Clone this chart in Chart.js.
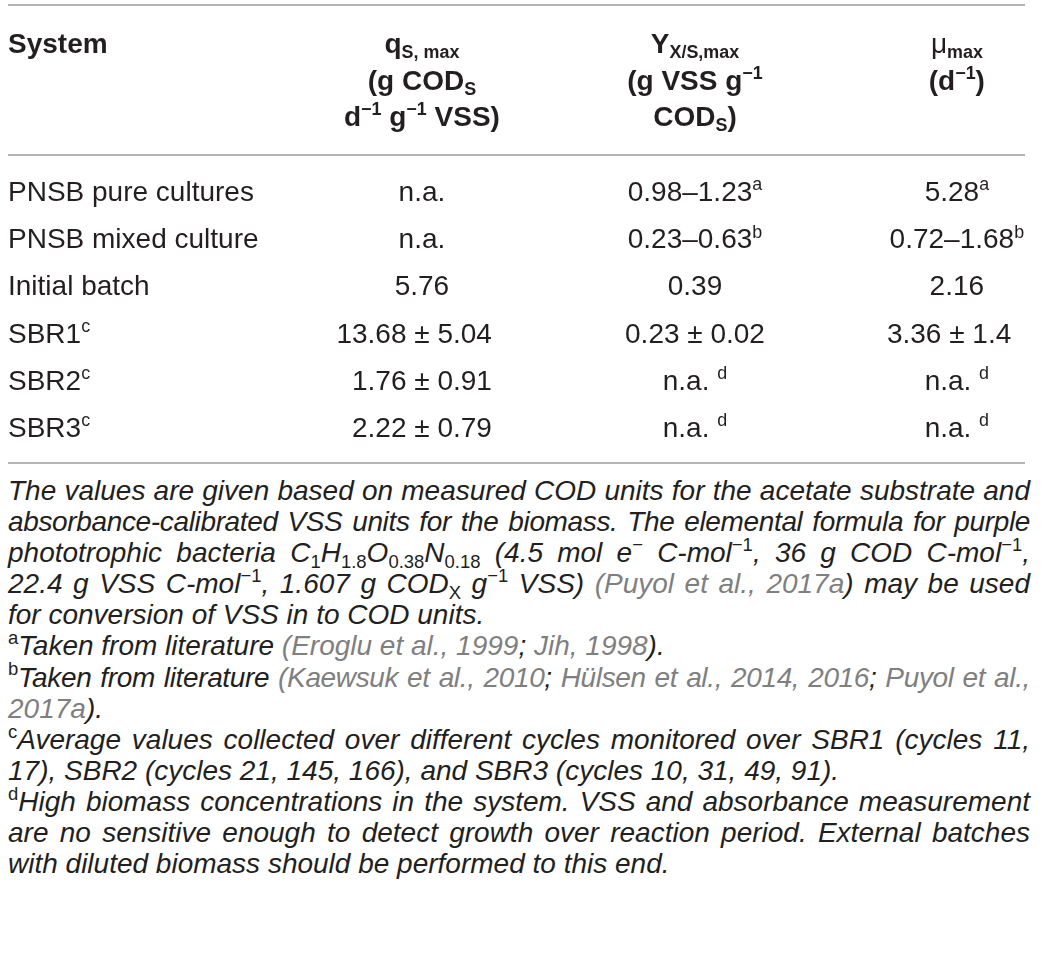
<!DOCTYPE html>
<html>
<head>
<meta charset="utf-8">
<script src="https://cdn.jsdelivr.net/npm/chart.js@4.4.1/dist/chart.umd.min.js"></script>
<style>
  html, body { margin: 0; padding: 0; background: #fff; }
  body { width: 1042px; height: 960px; overflow: hidden; position: relative;
         font-family: "Liberation Sans", Arial, sans-serif; color: #231f20; }
  #table { position: absolute; left: 0; top: 0; width: 1042px; height: 470px; }
  #notes { position: absolute; left: 8px; top: 475px; width: 1022px;
           font-size: 28px; line-height: 31.1px; font-style: italic; }
  #notes .ln { white-space: nowrap; text-align: left; }
  #notes .j { text-align: justify; text-align-last: justify; }
  #notes .tight { letter-spacing: -0.35px; }
  #notes sup, #notes sub { font-style: normal; font-size: 0.66em; line-height: 0;
                           position: relative; vertical-align: baseline; }
  #notes sup { top: -0.6em; }
  #notes sub { top: 0.3em; }
  #notes .ref { color: #7f7f7f; }
</style>
</head>
<body>
<div id="table"><canvas id="chart" width="1042" height="470"></canvas></div>
<div id="notes">
  <div class="ln j">The values are given based on measured COD units for the acetate substrate and</div>
  <div class="ln j tight">absorbance-calibrated VSS units for the biomass. The elemental formula for purple</div>
  <div class="ln j">phototrophic bacteria C<sub>1</sub>H<sub>1.8</sub>O<sub>0.38</sub>N<sub>0.18</sub> (4.5 mol e<sup>−</sup> C-mol<sup>−1</sup>, 36 g COD C-mol<sup>−1</sup>,</div>
  <div class="ln j">22.4 g VSS C-mol<sup>−1</sup>, 1.607 g COD<sub>X</sub> g<sup>−1</sup> VSS) <span class="ref">(Puyol et al., 2017a</span>) may be used</div>
  <div class="ln">for conversion of VSS in to COD units.</div>
  <div class="ln"><sup>a</sup>Taken from literature <span class="ref">(Eroglu et al., 1999</span>; <span class="ref">Jih, 1998</span>).</div>
  <div class="ln j tight"><sup>b</sup>Taken from literature <span class="ref">(Kaewsuk et al., 2010</span>; <span class="ref">Hülsen et al., 2014, 2016</span>; <span class="ref">Puyol et al.,</span></div>
  <div class="ln"><span class="ref">2017a</span>).</div>
  <div class="ln j"><sup>c</sup>Average values collected over different cycles monitored over SBR1 (cycles 11,</div>
  <div class="ln">17), SBR2 (cycles 21, 145, 166), and SBR3 (cycles 10, 31, 49, 91).</div>
  <div class="ln j"><sup>d</sup>High biomass concentrations in the system. VSS and absorbance measurement</div>
  <div class="ln j">are no sensitive enough to detect growth over reaction period. External batches</div>
  <div class="ln">with diluted biomass should be performed to this end.</div>
</div>
<script>
// Wiersze tabeli (kolumna System)
const systems = ['PNSB pure cultures', 'PNSB mixed culture', 'Initial batch', 'SBR1', 'SBR2', 'SBR3'];
const systemNotes = ['', '', '', 'c', 'c', 'c'];

// Wartości w kolumnach
const qsMax = ['n.a.', 'n.a.', '5.76', '13.68 ± 5.04', '1.76 ± 0.91', '2.22 ± 0.79'];
const qsNotes = ['', '', '', '', '', ''];
const yxsMax = ['0.98–1.23', '0.23–0.63', '0.39', '0.23 ± 0.02', 'n.a. ', 'n.a. '];
const yxsNotes = ['a', 'b', '', '', 'd', 'd'];
const muMax = ['5.28', '0.72–1.68', '2.16', '3.36 ± 1.4', 'n.a. ', 'n.a. '];
const muNotes = ['a', 'b', '', '', 'd', 'd'];

// Nagłówki kolumn: linie złożone z fragmentów [tekst, rodzaj]
const headSystem = [[['System']]];
const headQs = [
  [['q'], ['S, max', 'sub']],
  [['(g COD'], ['S', 'sub']],
  [['d'], ['−1', 'sup'], [' g'], ['−1', 'sup'], [' VSS)']]
];
const headYxs = [
  [['Y'], ['X/S,max', 'sub']],
  [['(g VSS g'], ['−1', 'sup']],
  [['COD'], ['S', 'sub'], [')']]
];
const headMu = [
  [['μ', 'plain'], ['max', 'sub']],
  [['(d'], ['−1', 'sup'], [')']]
];

// Układ i style
const TEXT = '#231f20';
const RULE = '#9b9b9b';
const FAMILY = '"Liberation Sans", Arial, sans-serif';
const BODY_FONT = { size: 28, weight: 'normal' };
const HEAD_FONT = { size: 28, weight: 'bold' };
const columnAnchors = [0, 0.407, 0.6755, 0.933];   // względna pozycja kolumny na szerokości tabeli
const columnAlign = ['left', 'pm', 'pm', 'pm'];
const frame = { topRule: 5, headRule: 155, bottomRule: 463, headBase: [53, 90, 126] };

const columns = [
  { text: systems, notes: systemNotes, head: headSystem },
  { text: qsMax, notes: qsNotes, head: headQs },
  { text: yxsMax, notes: yxsNotes, head: headYxs },
  { text: muMax, notes: muNotes, head: headMu }
];

function runFont(base, kind) {
  const small = kind === 'sub' || kind === 'sup';
  const size = small ? base.size * 0.64 : base.size;
  const weight = kind === 'plain' ? 'normal' : base.weight;
  return `${weight} ${size}px ${FAMILY}`;
}

// Rysuje linię tekstu z indeksami dolnymi/górnymi
function drawRuns(ctx, runs, x, y, align, base) {
  const widths = runs.map(([t, k]) => { ctx.font = runFont(base, k); return ctx.measureText(t).width; });
  const total = widths.reduce((a, b) => a + b, 0);
  let start = x;
  if (align === 'center') start = x - total / 2;
  if (align === 'pm') {
    const s = runs[0][0];
    const p = s.indexOf('±');
    ctx.font = runFont(base, runs[0][1]);
    start = p >= 0
      ? x - ctx.measureText(s.slice(0, p)).width - ctx.measureText('±').width / 2
      : x - total / 2;
  }
  ctx.fillStyle = TEXT;
  ctx.textAlign = 'left';
  ctx.textBaseline = 'alphabetic';
  runs.forEach(([t, k], i) => {
    ctx.font = runFont(base, k);
    const dy = k === 'sub' ? base.size * 0.18 : k === 'sup' ? -base.size * 0.38 : 0;
    ctx.fillText(t, start, y + dy);
    start += widths[i];
  });
}

const tablePlugin = {
  id: 'tableText',
  afterDraw(chart) {
    const ctx = chart.ctx;
    const area = chart.chartArea;
    const xs = chart.scales.x;
    ctx.save();
    ctx.strokeStyle = RULE;
    ctx.lineWidth = 1.5;
    [frame.topRule, frame.headRule, frame.bottomRule].forEach(y => {
      ctx.beginPath();
      ctx.moveTo(area.left, y);
      ctx.lineTo(area.right, y);
      ctx.stroke();
    });
    columns.forEach((c, i) => {
      const x = xs.getPixelForValue(columnAnchors[i]);
      c.head.forEach((runs, k) => drawRuns(ctx, runs, x, frame.headBase[k], i === 0 ? 'left' : 'center', HEAD_FONT));
    });
    chart.data.datasets.forEach((ds, i) => {
      chart.getDatasetMeta(i).data.forEach((pt, j) => {
        const runs = [[ds.cellText[j]]];
        if (ds.cellNotes[j]) runs.push([ds.cellNotes[j], 'sup']);
        drawRuns(ctx, runs, pt.x, pt.y, ds.cellAlign, BODY_FONT);
      });
    });
    ctx.restore();
  }
};

new Chart(document.getElementById('chart').getContext('2d'), {
  type: 'scatter',
  data: {
    datasets: columns.map((c, i) => ({
      data: systems.map(s => ({ x: columnAnchors[i], y: s })),
      cellText: c.text,
      cellNotes: c.notes,
      cellAlign: columnAlign[i],
      pointRadius: 0,
      pointHoverRadius: 0
    }))
  },
  options: {
    responsive: false,
    animation: false,
    layout: { padding: { left: 8, right: 17, top: 201, bottom: 33 } },
    scales: {
      x: { type: 'linear', min: 0, max: 1, display: false },
      y: { type: 'category', labels: systems, offset: false, display: false }
    },
    plugins: {
      legend: { display: false },
      tooltip: { enabled: false }
    }
  },
  plugins: [tablePlugin]
});
</script>
</body>
</html>
